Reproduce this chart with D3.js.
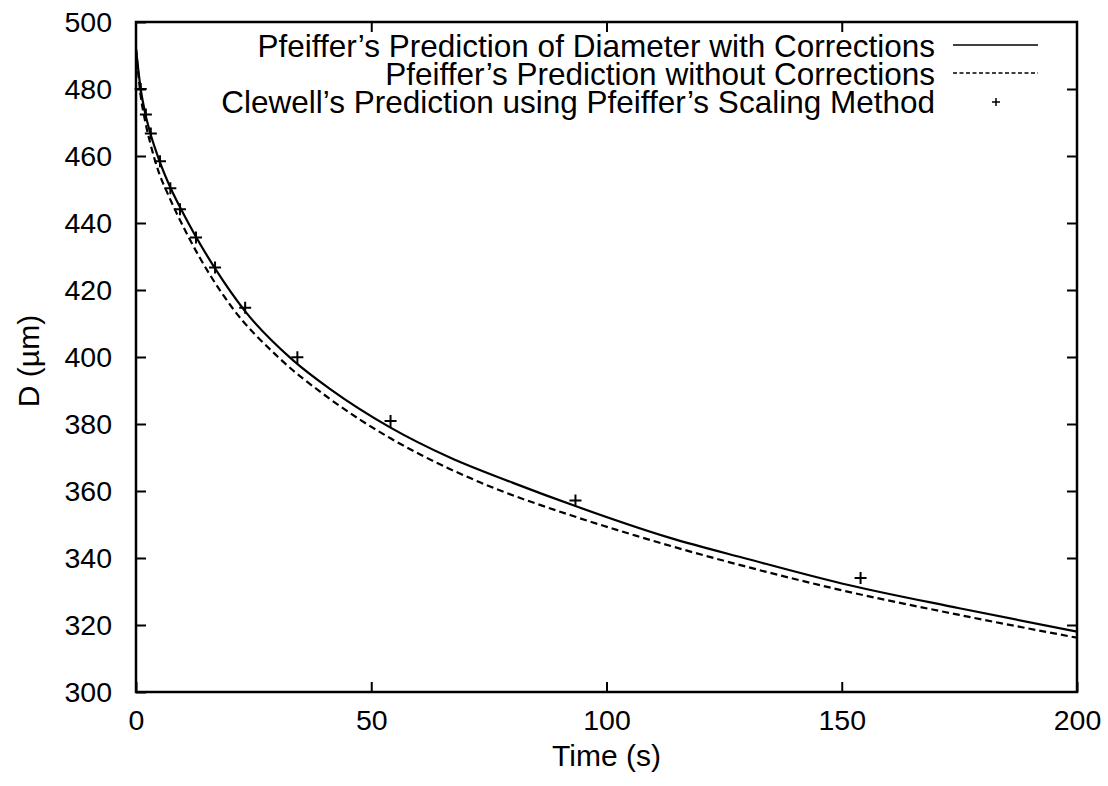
<!DOCTYPE html>
<html>
<head>
<meta charset="utf-8">
<script src="https://cdn.jsdelivr.net/npm/d3@7"></script>
<style>
  body { margin: 0; background: #fff; }
  text { font-family: "Liberation Sans", Arial, sans-serif; fill: #000; }
</style>
</head>
<body>
<div id="chart"></div>
<script>
// data
var seriesNames = [
  "Pfeiffer\u2019s Prediction of Diameter with Corrections",
  "Pfeiffer\u2019s Prediction without Corrections",
  "Clewell\u2019s Prediction using Pfeiffer\u2019s Scaling Method"
];

// solid curve (with corrections)
var withT = [0, 1, 2, 3, 5, 7.5, 10, 12.5, 17, 23, 33.4, 41.2, 54, 66.7, 80, 93.4, 113.5, 130, 150, 175, 200];
var withD = [492, 480, 472.5, 467, 458.5, 450, 443, 436.5, 426, 414, 399, 390.5, 379, 370, 362.5, 355.5, 346, 339.7, 332.4, 325, 318];

// dashed curve (without corrections)
var withoutT = [0, 1, 2, 3, 5, 6.5, 11.1, 20.3, 30.2, 41.2, 54, 60.4, 73.1, 93.4, 106.4, 115.6, 130, 149.6, 175, 200];
var withoutD = [492, 478, 470, 464, 454.5, 449.5, 436, 415, 400, 387.5, 375.8, 370.9, 362.6, 352.3, 346.6, 342.8, 337.3, 330.5, 323, 316.2];

// Clewell points
var clewellT = [1, 2.1, 3.15, 5.1, 7.3, 9.35, 12.75, 16.8, 23.2, 34.3, 54.1, 93.4, 154];
var clewellD = [480, 472.4, 466.7, 458.4, 450.4, 444.1, 435.7, 426.7, 414.7, 399.9, 380.9, 357.2, 334];

var xTicks = [0, 50, 100, 150, 200];
var yTicks = [300, 320, 340, 360, 380, 400, 420, 440, 460, 480, 500];

var margin = {top: 22, right: 31, bottom: 94, left: 136},
    width = 1108 - margin.left - margin.right,
    height = 786 - margin.top - margin.bottom;

var x = d3.scaleLinear().domain([0, 200]).range([0, width]);
var y = d3.scaleLinear().domain([300, 500]).range([height, 0]);

var svg = d3.select("#chart")
  .append("svg")
    .attr("width", 1108)
    .attr("height", 786)
  .append("g")
    .attr("transform", "translate(" + margin.left + "," + margin.top + ")");

var tickLen = 10;

// axes (ticks inward, mirrored on top/right)
svg.append("g")
  .attr("transform", "translate(0," + height + ")")
  .call(d3.axisBottom(x).tickValues(xTicks).tickSizeInner(-tickLen).tickSizeOuter(0).tickPadding(tickLen + 8))
  .call(g => g.selectAll("text").style("font-size", "28.5px"));
svg.append("g")
  .call(d3.axisTop(x).tickValues(xTicks.slice(1, -1)).tickSizeInner(-tickLen).tickSizeOuter(0).tickFormat(""));
svg.append("g")
  .call(d3.axisLeft(y).tickValues(yTicks).tickSizeInner(-tickLen).tickSizeOuter(0).tickPadding(tickLen + 14))
  .call(g => g.selectAll("text").style("font-size", "28.5px"));
svg.append("g")
  .attr("transform", "translate(" + width + ",0)")
  .call(d3.axisRight(y).tickValues(yTicks.slice(1, -1)).tickSizeInner(-tickLen).tickSizeOuter(0).tickFormat(""));

svg.selectAll(".domain").remove();
svg.selectAll(".tick line").attr("stroke", "#000").attr("stroke-width", 2);
svg.selectAll(".tick text").style("font-family", "'Liberation Sans', Arial, sans-serif").attr("fill", "#000");

// frame
svg.append("rect")
  .attr("width", width)
  .attr("height", height)
  .attr("fill", "none")
  .attr("stroke", "#000")
  .attr("stroke-width", 2.5);

svg.append("clipPath").attr("id", "clip")
  .append("rect").attr("width", width).attr("height", height);

var line = d3.line()
  .x(d => x(d[0]))
  .y(d => y(d[1]))
  .curve(d3.curveMonotoneX);

svg.append("path")
  .datum(withT.map((t, i) => [t, withD[i]]))
  .attr("clip-path", "url(#clip)")
  .attr("fill", "none")
  .attr("stroke", "#000")
  .attr("stroke-width", 2.2)
  .attr("d", line);

svg.append("path")
  .datum(withoutT.map((t, i) => [t, withoutD[i]]))
  .attr("clip-path", "url(#clip)")
  .attr("fill", "none")
  .attr("stroke", "#000")
  .attr("stroke-width", 2.2)
  .attr("stroke-dasharray", "7,4")
  .attr("d", line);

// plus markers
function plus(g, cx, cy, r, w) {
  g.append("path")
    .attr("d", "M" + (cx - r) + "," + cy + "H" + (cx + r) + "M" + cx + "," + (cy - r) + "V" + (cy + r))
    .attr("stroke", "#000")
    .attr("stroke-width", w)
    .attr("fill", "none");
}
var pts = svg.append("g");
clewellT.forEach((t, i) => plus(pts, x(t), y(clewellD[i]), 6, 2));

// legend
var legend = svg.append("g").attr("transform", "translate(" + (935 - margin.left) + ",0)");
var rowY = [46 - margin.top, 74 - margin.top, 102 - margin.top];
seriesNames.forEach((name, i) => {
  legend.append("text")
    .attr("x", 0)
    .attr("y", rowY[i])
    .attr("dy", "0.35em")
    .attr("text-anchor", "end")
    .style("font-size", "31.5px")
    .text(name);
});
legend.append("line")
  .attr("x1", 18).attr("x2", 103).attr("y1", rowY[0] - 1).attr("y2", rowY[0] - 1)
  .attr("stroke", "#000").attr("stroke-width", 1.6);
legend.append("line")
  .attr("x1", 18).attr("x2", 103).attr("y1", rowY[1] - 1).attr("y2", rowY[1] - 1)
  .attr("stroke", "#000").attr("stroke-width", 1.4).attr("stroke-dasharray", "4,2.5");
plus(legend, 61, rowY[2], 4, 1.5);

// axis titles
svg.append("text")
  .attr("x", width / 2)
  .attr("y", 766 - margin.top)
  .attr("text-anchor", "middle")
  .style("font-size", "30px")
  .text("Time (s)");

svg.append("text")
  .attr("transform", "translate(" + (28 - margin.left) + "," + (361 - margin.top) + ") rotate(-90)")
  .attr("dy", "0.35em")
  .attr("text-anchor", "middle")
  .style("font-size", "30px")
  .text("D (\u00b5m)");
</script>
</body>
</html>
